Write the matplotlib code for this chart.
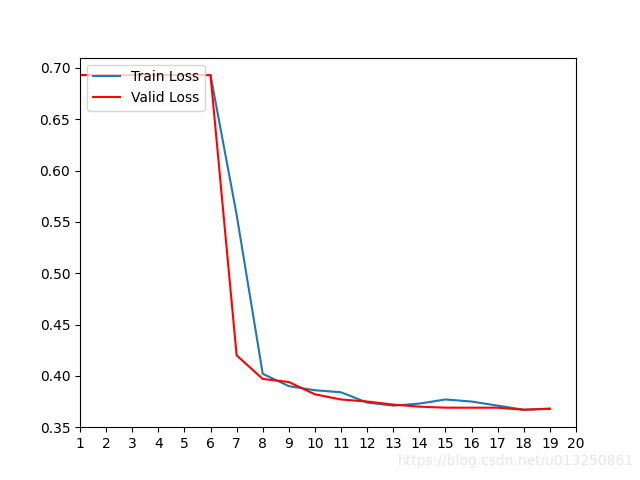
import matplotlib
matplotlib.use('Agg')
import matplotlib.pyplot as plt

epochs = list(range(0, 20))
train_loss = [0.693, 0.693, 0.693, 0.693, 0.693, 0.693, 0.693, 0.557, 0.402, 0.390,
              0.386, 0.384, 0.374, 0.371, 0.373, 0.377, 0.375, 0.371, 0.367, 0.368]
valid_loss = [0.693, 0.693, 0.693, 0.693, 0.693, 0.693, 0.693, 0.420, 0.397, 0.394,
              0.382, 0.377, 0.375, 0.372, 0.370, 0.369, 0.369, 0.369, 0.367, 0.368]

fig = plt.figure(figsize=(6.4, 4.8), dpi=100)
plt.plot(epochs, train_loss, label='Train Loss')
plt.plot(epochs, valid_loss, color='r', label='Valid Loss')
plt.xticks(range(1, 21))
plt.xlim(1, 20)
plt.ylim(0.35, 0.71)
plt.legend(loc='upper left')

# watermark
fig.text(0.99, 0.025, 'https://blog.csdn.net/u013250861', ha='right', va='bottom',
         fontsize=10, color='#e6e6e6')
plt.savefig('out.png')
